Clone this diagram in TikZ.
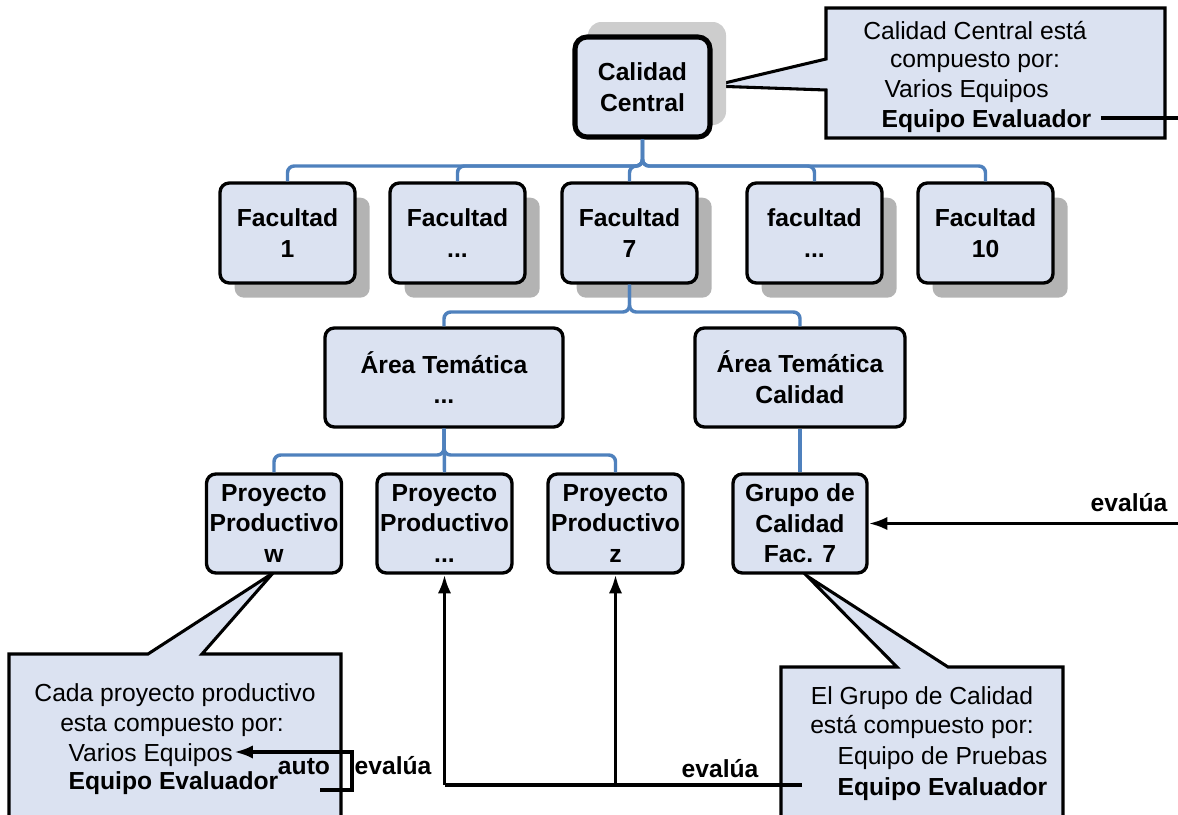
\documentclass[tikz,border=0pt]{standalone}
\usepackage{fontspec}
\setmainfont{Liberation Sans}
\usetikzlibrary{arrows.meta,calc,shadows}
\definecolor{boxfill}{RGB}{219,226,241}
\definecolor{linkblue}{RGB}{79,129,189}
\definecolor{shadowgray}{RGB}{179,179,179}
\definecolor{lightshadow}{RGB}{205,205,205}

\begin{document}
\begin{tikzpicture}[x=0.75pt,y=-0.75pt,
  orgbox/.style={draw=black, line width=2.5pt, fill=boxfill, rounded corners=7pt,
    align=center, inner sep=0pt, font=\bfseries\fontsize{18.5}{23}\selectfont},
  ccbox/.style={orgbox, line width=3.8pt, rounded corners=9pt,
    minimum width=101.25pt, minimum height=75pt},
  facbox/.style={orgbox, minimum width=101.25pt, minimum height=75pt,
    drop shadow={shadow xshift=11pt, shadow yshift=-11pt, fill=shadowgray, opacity=1}},
  areabox/.style={orgbox, minimum height=74.25pt},
  projbox/.style={orgbox, minimum width=101.25pt, minimum height=74.25pt},
  link/.style={draw=linkblue, line width=2.6pt, rounded corners=5pt},
  callout/.style={draw=black, line width=2.3pt, fill=boxfill, line join=miter},
  calltext/.style={inner sep=1pt, text height=13.5pt, text depth=0pt,
    font=\fontsize{18.5}{22}\selectfont},
  callbold/.style={calltext, font=\bfseries\fontsize{18.5}{22}\selectfont},
  evarrow/.style={draw=black, line width=2.6pt, -{Latex[length=14pt,width=10pt]}},
  evline/.style={draw=black, line width=2.6pt},
  evlabel/.style={inner sep=1pt, text height=13.5pt, text depth=0pt,
    font=\bfseries\fontsize{18.5}{22}\selectfont}]

\useasboundingbox (0,0) rectangle (1178,814);
\clip (0,0) rectangle (1178,814);

% speech-bubble outlines
\draw[callout] (826,8) -- (1165,8) -- (1165,138) -- (826,138) -- (826,90)
  -- (712,86) -- (826,59) -- cycle;
\draw[callout] (9,654) -- (148,654) -- (273,573) -- (202,654) -- (341,654)
  -- (341,830) -- (9,830) -- cycle;
\draw[callout] (781,667) -- (897,667) -- (807,576) -- (948,667) -- (1063,667)
  -- (1063,830) -- (781,830) -- cycle;

% raised shadow behind the top box
\fill[lightshadow, rounded corners=10pt] (588,22) rectangle (726,125);

% organisation chart
\node[ccbox] (cc) at (642.5,87) {Calidad\\Central};

\node[facbox] (f1)  at (287.5,233) {Facultad\\1};
\node[facbox] (f2)  at (457.5,233) {Facultad\\...};
\node[facbox] (f7)  at (629.5,233) {Facultad\\7};
\node[facbox] (f8)  at (814.5,233) {facultad\\...};
\node[facbox] (f10) at (985.5,233) {Facultad\\10};

\node[areabox, minimum width=178.5pt] (a1) at (444,377.5) {Área Temática\\...};
\node[areabox, minimum width=157.5pt] (a2) at (800,377.5) {Área Temática\\Calidad};

\node[projbox] (p1) at (274,523.5)   {Proyecto\\Productivo\\w};
\node[projbox] (p2) at (444.5,523.5) {Proyecto\\Productivo\\...};
\node[projbox] (p3) at (615.5,523.5) {Proyecto\\Productivo\\z};
\node[projbox, minimum width=100.5pt] (gq) at (800,523.5) {Grupo de\\Calidad\\Fac. 7};

% bus levels
\coordinate (bus1) at (0,166);
\coordinate (bus2) at (0,312);
\coordinate (bus3) at (0,455);

\foreach \c in {f1,f2,f7,f8,f10}
  \draw[link] (cc.south) |- (\c.north |- bus1) -- (\c.north);
\foreach \c in {a1,a2}
  \draw[link] (f7.south) |- (\c.north |- bus2) -- (\c.north);
\foreach \c in {p1,p3}
  \draw[link] (a1.south) |- (\c.north |- bus3) -- (\c.north);
\draw[link] (a1.south) -- (p2.north);
\draw[link] (a2.south) -- (gq.north);

% bubble texts
\node[calltext, anchor=center] (t1) at (975,30) {Calidad Central está};
\node[calltext, anchor=center] (t2) at (975,58) {compuesto por:};
\node[calltext, anchor=west]   (t3) at (883,88) {Varios Equipos};
\node[callbold, anchor=west]   (t4) at (880,118) {Equipo Evaluador};

\node[calltext, anchor=center] (l1) at (175,692) {Cada proyecto productivo};
\node[calltext, anchor=center] (l2) at (172,722) {esta compuesto por:};
\node[calltext, anchor=west]   (l3) at (67,752) {Varios Equipos};
\node[callbold, anchor=west]   (l4) at (67,780) {Equipo Evaluador};

\node[calltext, anchor=center] (r1) at (922,695) {El Grupo de Calidad};
\node[calltext, anchor=center] (r2) at (922,724) {está compuesto por:};
\node[calltext, anchor=west]   (r3) at (836,755) {Equipo de Pruebas};
\node[callbold, anchor=west]   (r4) at (836,786) {Equipo Evaluador};

% evaluation links
\coordinate (topR) at (1178,0);
\draw[evline] ($(t4.east)+(8,0)$) -- (t4.east -| topR);

\coordinate (evR) at (1178,0);
\draw[evarrow] (gq.east -| evR) -- (gq.east);
\node[evlabel] (lbR) at (1129,502) {evalúa};

\coordinate (selfA) at (320,790);
\draw[evarrow] (selfA) -- ++(32,0) |- (l3.east);
\node[evlabel] (lbAuto) at (304,765) {auto};
\node[evlabel] (lbSelf) at (393,765) {evalúa};

\coordinate (evB) at (802,785);
\draw[evline] (evB) -- (p2.south |- evB);
\draw[evarrow] (p2.south |- evB) -- (p2.south);
\draw[evarrow] (p3.south |- evB) -- (p3.south);
\node[evlabel] (lbB) at (720,768) {evalúa};

\end{tikzpicture}
\end{document}
